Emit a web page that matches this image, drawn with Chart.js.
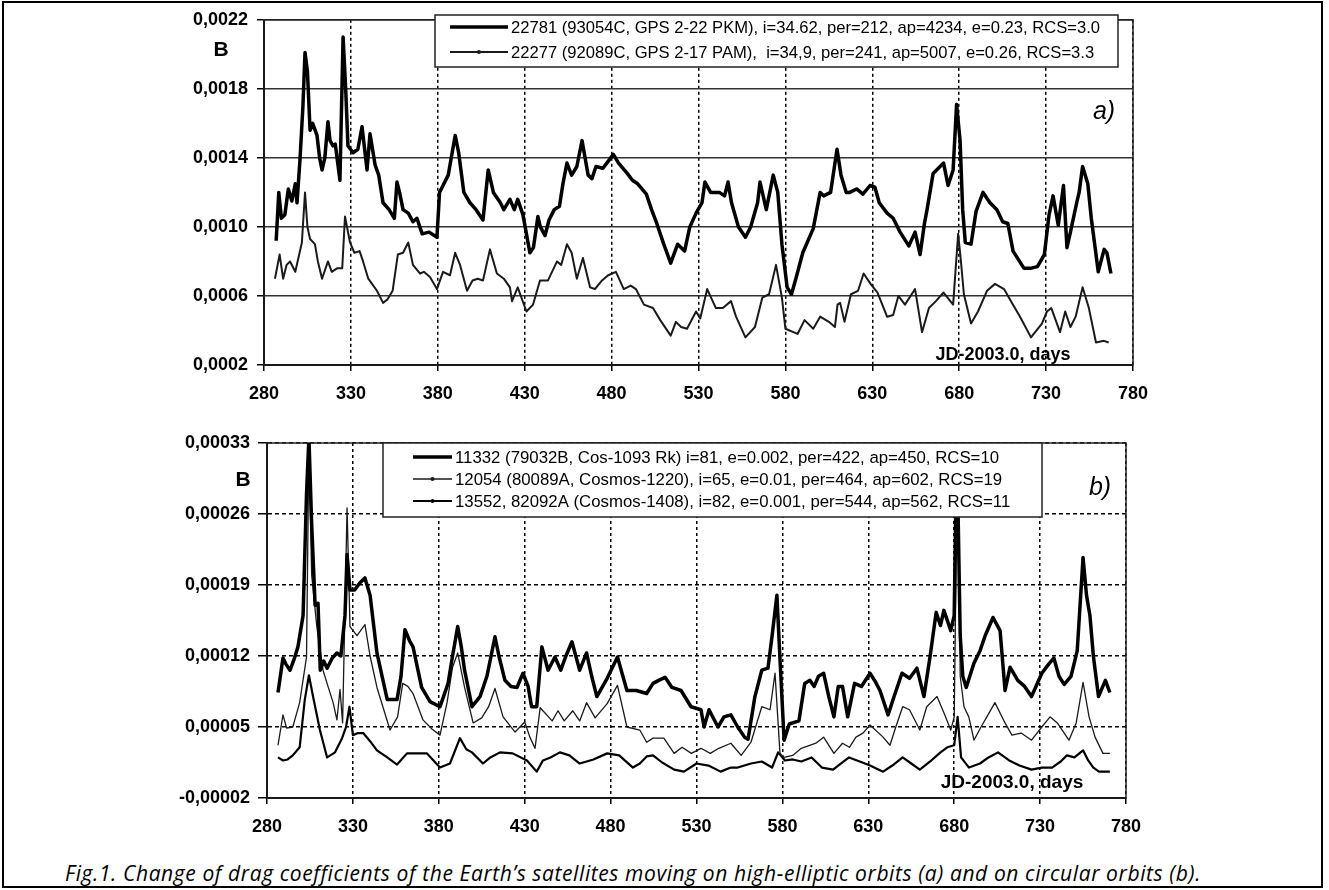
<!DOCTYPE html>
<html>
<head>
<meta charset="utf-8">
<title>Drag coefficients</title>
<script src="https://cdn.jsdelivr.net/npm/chart.js"></script>
<style>
  body { margin: 0; background: #fff; }
  #frame { position: absolute; left: 2px; top: 1px; width: 1317px; height: 883px; border: 2px solid #000; }
  canvas { position: absolute; left: 0; }
  #chartA { top: 0; }
  #chartB { top: 410px; }
  #caption { position: absolute; left: 65px; top: 859px; line-height: 28px; font: italic 21px "Open Sans", sans-serif; letter-spacing: 0.6px; white-space: nowrap; color: #000; }
</style>
</head>
<body>
<div id="frame"></div>
<canvas id="chartA" width="1329" height="410"></canvas>
<canvas id="chartB" width="1329" height="430"></canvas>
<div id="caption">Fig.1. Change of drag coefficients of the Earth’s satellites moving on high-elliptic orbits (a) and on circular orbits (b).</div>
<script>
// [day (JD-2003.0), B] pairs
const gps2_22 = [
  [287,0.00092],[288.5,0.0012],[290,0.00105],[292,0.00107],[294,0.00122],[296,0.00115],[298,0.00125],[299,0.00114],[300.7,0.00139],[302.4,0.0017],
  [303.6,0.00201],[305,0.0019],[306.5,0.00156],[308,0.0016],[310.5,0.00153],[312,0.0014],[313.4,0.00133],[315,0.0014],[316.8,0.00161],[318,0.0015],
  [319.7,0.00147],[321,0.00148],[323.7,0.00127],[325.5,0.0021],[327,0.0018],[328.3,0.00147],[331.2,0.00143],[334,0.00145],[336.4,0.00158],[339.3,0.00133],
  [341,0.00154],[343.9,0.00136],[346,0.0013],[348.5,0.00114],[352,0.0011],[355,0.00105],[356.5,0.00126],[358,0.0012],[360,0.0011],[363,0.00108],
  [365.7,0.00103],[368,0.00105],[371,0.00096],[375,0.00097],[379.5,0.00094],[381,0.0012],[383,0.00124],[386,0.0013],[390,0.00153],[392,0.00143],
  [395,0.0012],[398.5,0.00114],[402,0.0011],[406,0.00104],[409,0.00133],[412,0.0012],[416,0.00114],[418,0.0011],[421.5,0.00116],[424,0.0011],
  [426,0.00116],[429,0.00107],[433,0.00085],[435,0.00088],[437.6,0.00106],[439,0.001],[441.7,0.00095],[444,0.00104],[447,0.0011],[450,0.00112],
  [452,0.00125],[454.3,0.00137],[457,0.0013],[460,0.00135],[463,0.0015],[466.5,0.0013],[468.7,0.00128],[471,0.00135],[475,0.00134],[478,0.00138],
  [481,0.00142],[484,0.00137],[489,0.00131],[492,0.00127],[495,0.00125],[500,0.00119],[503,0.0011],[506,0.00102],[510,0.0009],[514,0.00079],
  [518,0.0009],[522,0.00086],[525,0.001],[528.6,0.00108],[532,0.00114],[533.7,0.00126],[537,0.0012],[542,0.0012],[545,0.00118],[547,0.00126],
  [549,0.00114],[553,0.001],[557,0.00094],[560,0.001],[564,0.00114],[565.4,0.00126],[569,0.0011],[573,0.0013],[575.6,0.0012],[578,0.0009],
  [581,0.00065],[583.5,0.00061],[586,0.0007],[590,0.00085],[596,0.00099],[600,0.0012],[602,0.00118],[606,0.0012],[609.7,0.00145],[612,0.0013],
  [615,0.0012],[617,0.0012],[621,0.00122],[624.6,0.00119],[628.7,0.00124],[631.5,0.00123],[634,0.00114],[638.5,0.00108],[642,0.00105],[646,0.00097],
  [651,0.00089],[654.6,0.00097],[657.5,0.00084],[660,0.00102],[661.5,0.0011],[665,0.00131],[669,0.00135],[671,0.00137],[673.6,0.00124],[676.5,0.00133],
  [678.5,0.00171],[680.5,0.0015],[682,0.0011],[683.5,0.00091],[686.8,0.0009],[689.7,0.00109],[693.7,0.0012],[697.7,0.00114],[701.7,0.0011],[705,0.00103],
  [708,0.00102],[711,0.00086],[717.3,0.00076],[721,0.00076],[725,0.00077],[729,0.00084],[731.7,0.00107],[734,0.00118],[737,0.00101],[740,0.00124],
  [742,0.00088],[744,0.00097],[747.6,0.00114],[749,0.0012],[751,0.00135],[754,0.00125],[756,0.00105],[760,0.00074],[763.4,0.00087],[765,0.00085],[767.3,0.00073]
];

const gps2_17 = [
  [286.3,0.0007],[289,0.00084],[291,0.0007],[293,0.00078],[295,0.0008],[298,0.00074],[301.8,0.00091],[303.6,0.0012],[305,0.001],[306.5,0.00093],
  [309.3,0.0009],[311,0.0008],[313.4,0.0007],[316.8,0.0008],[319,0.00074],[322,0.00076],[325,0.00076],[326.6,0.00106],[329.5,0.00091],[332,0.00085],
  [335,0.00086],[337,0.0008],[340,0.0007],[345,0.00063],[348.5,0.00056],[351,0.00058],[354,0.00063],[357,0.00084],[360,0.00085],[363,0.00091],
  [365.7,0.00078],[369.8,0.00073],[372,0.00074],[375.5,0.00071],[379.5,0.00064],[383,0.00074],[387,0.00072],[390,0.00085],[392.8,0.00078],[396.8,0.00063],
  [400,0.00069],[403,0.0007],[406,0.00069],[410,0.00087],[414,0.00073],[418,0.0007],[421.5,0.00065],[422.7,0.00057],[426,0.00065],[431,0.00051],
  [434.8,0.00055],[438.8,0.00069],[443.4,0.00069],[448.6,0.0008],[451,0.00078],[454.3,0.0009],[457,0.00085],[460,0.0007],[463.5,0.00082],[467.6,0.00065],
  [470.4,0.00064],[474.5,0.00069],[478,0.00072],[482.5,0.00074],[487,0.00064],[491,0.00066],[494,0.00064],[498.6,0.00055],[503.8,0.00053],[508,0.00046],
  [514,0.00037],[517,0.00045],[520,0.00042],[523.4,0.00041],[528.6,0.00051],[531,0.00047],[535,0.00064],[540,0.00053],[544,0.00053],[548.7,0.00057],
  [551.6,0.00048],[557,0.00036],[562.5,0.00042],[566.7,0.00059],[570.6,0.00061],[574.6,0.00078],[578,0.00059],[580,0.00041],[587,0.00038],[591,0.00046],
  [596,0.00041],[600,0.00048],[605,0.00045],[608.5,0.00042],[610,0.00055],[611.5,0.00056],[614,0.00045],[617.7,0.00061],[621.8,0.00063],[625,0.00073],
  [629,0.00067],[633,0.00062],[638.5,0.00048],[642,0.00049],[645,0.0006],[648.8,0.00055],[654.6,0.00064],[658.6,0.00039],[662.6,0.00053],[666.6,0.00057],
  [671,0.00062],[676.5,0.00055],[679.4,0.00096],[681,0.0008],[682.7,0.00061],[686.8,0.00044],[690.8,0.00051],[696,0.00063],[700.6,0.00067],[705.8,0.00064],
  [709.8,0.00057],[715,0.00048],[721.3,0.00036],[727.6,0.00044],[730.5,0.00051],[733,0.00053],[738,0.00039],[741,0.00051],[744,0.00042],[747,0.00048],
  [751,0.00065],[754.6,0.00053],[758.7,0.00033],[763.3,0.00034],[766,0.00033]
];

const cos1093 = [
  [286.4,0.000084],[289.3,0.000118],[291,0.000112],[293.4,0.000106],[296,0.000118],[298,0.000129],[301,0.00016],[303,0.00028],[304.4,0.000335],[306,0.00025],
  [308,0.00017],[309.7,0.000172],[311,0.000106],[313,0.000115],[315,0.000108],[318,0.000118],[320.7,0.000123],[323,0.00012],[325.4,0.00016],[326.6,0.00022],
  [328.3,0.000185],[331,0.000185],[334,0.000192],[337,0.000197],[340,0.00018],[344,0.000123],[347,0.0001],[350,0.000077],[355.7,0.000077],[358,0.0001],
  [360.3,0.000146],[363,0.000135],[365,0.000129],[370,0.000089],[374.9,0.000075],[380.7,0.00007],[385.4,0.000093],[388,0.00012],[391,0.000149],[393,0.00013],
  [395,0.000106],[399.3,0.00007],[404,0.00008],[408,0.0001],[412.7,0.000139],[415,0.00012],[418.5,0.000096],[422,0.00009],[425.5,0.000089],[429,0.000103],
  [432,0.00009],[434,0.00007],[437,0.00007],[440,0.000129],[443.6,0.000106],[447.6,0.000119],[451,0.000106],[454,0.00012],[457.5,0.000134],[462,0.000106],
  [466,0.000123],[469,0.0001],[472,0.00008],[478,0.000098],[484,0.000119],[489.5,0.000086],[495,0.000086],[501,0.000083],[504.7,0.000093],[508,0.000096],
  [511.7,0.000099],[515.7,0.000089],[521,0.000086],[526.8,0.00007],[532.6,0.000067],[534.4,0.00005],[537.3,0.000067],[542.5,0.00005],[546,0.00006],[550,0.000062],
  [554,0.00005],[558,0.00004],[560,0.000038],[564,0.00008],[568,0.000106],[571.6,0.000108],[574,0.00014],[576.8,0.00018],[578.5,0.00012],[581,0.000037],
  [584,0.000053],[589.6,0.000056],[593,0.000093],[596,0.000096],[598.5,0.00009],[601,0.0001],[604,0.000103],[607,0.00008],[610,0.00006],[612.5,0.00009],
  [615,0.00009],[618,0.00006],[622,0.000093],[626,0.00009],[631,0.000103],[634,0.000095],[636.8,0.000086],[641.5,0.000062],[645,0.00008],[649.6,0.000103],
  [654,0.000098],[658.3,0.000108],[662.4,0.00008],[666,0.00012],[669.5,0.000163],[672,0.00015],[674,0.000165],[678,0.000145],[680,0.00016],[681.5,0.000335],
  [683.5,0.00014],[685,0.0001],[687,0.000089],[691.5,0.000113],[695,0.000125],[698,0.00014],[702.6,0.000158],[706.7,0.000145],[709.6,0.000086],[712.5,0.000109],
  [717,0.000096],[721,0.00009],[725,0.00008],[731,0.000103],[735,0.000112],[738,0.000118],[741,0.0001],[744,0.000092],[748,0.0001],[751.6,0.000125],
  [755,0.000217],[757,0.00018],[759,0.00016],[761,0.00012],[764,0.00008],[768,0.000096],[770.6,0.000084]
];

const cosmos1220 = [
  [286.4,0.000032],[289.3,0.000062],[291.4,0.000049],[295,0.00005],[299,0.000074],[303,0.000119],[304.4,0.00033],[306,0.0002],[309,0.000149],[312.6,0.000106],
  [315.5,0.00009],[318.5,0.000074],[320.7,0.000057],[322.5,0.000087],[324,0.000054],[326.6,0.000266],[328.3,0.000149],[332.4,0.00014],[337,0.000151],[340,0.00012],
  [344,0.000089],[351.6,0.000047],[356,0.00006],[359,0.000093],[362,0.00009],[365,0.000083],[370.8,0.000057],[376,0.000048],[380.7,0.000042],[384.8,0.000074],
  [388,0.000109],[391,0.000123],[395,0.000089],[400,0.000054],[405,0.000059],[409,0.00007],[412.7,0.000088],[417.4,0.00006],[424.4,0.000045],[430,0.000055],
  [433,0.00004],[436,0.000029],[439,0.000069],[446,0.000056],[449.4,0.000066],[453,0.000056],[458,0.000066],[462,0.000056],[466,0.000074],[471,0.000059],
  [478,0.000073],[484,0.000091],[489.5,0.00005],[497,0.000047],[501,0.000035],[504.7,0.000039],[511,0.000039],[517,0.000024],[521.6,0.00003],[527,0.000024],
  [532.6,0.000029],[538,0.000024],[543,0.000029],[550,0.000034],[556,0.000022],[561.7,0.000035],[568,0.00007],[572.8,0.000067],[575.7,0.000103],[578.6,0.000024],
  [581,0.00002],[586,0.000022],[591,0.000029],[599.5,0.000034],[604,0.00004],[610,0.000024],[615,0.000034],[619,0.00003],[622.8,0.00004],[626.9,0.000044],
  [631,0.000052],[638.6,0.00004],[642.6,0.000032],[646,0.00005],[650,0.00007],[654,0.000067],[660,0.000047],[664,0.00007],[670,0.00008],[674,0.000064],
  [678,0.000047],[680,0.00006],[682,0.00033],[683.5,0.0001],[685.7,0.00007],[688.5,0.00006],[691.5,0.000037],[695.6,0.00005],[699,0.00006],[703.7,0.000074],
  [709.6,0.000054],[713.6,0.000042],[719,0.000044],[725,0.000037],[731,0.00005],[735.8,0.00006],[740,0.000054],[746.8,0.000037],[751,0.000054],[755,0.000094],
  [758.5,0.00006],[762,0.00004],[766.6,0.000024],[770.6,0.000024]
];

const cosmos1408 = [
  [286.4,0.00002],[289.3,0.000017],[292,0.000018],[295,0.000022],[299,0.00003],[302,0.000077],[304.4,0.000101],[306.8,0.00008],[310.8,0.000047],[315,0.00002],
  [319.6,0.000025],[323.7,0.000039],[326,0.00005],[328,0.00007],[330,0.000042],[333,0.000044],[336,0.000044],[340,0.000036],[344,0.000027],[350,0.00002],
  [355.7,0.000013],[361.5,0.000024],[367,0.000024],[373,0.000024],[380.7,0.00001],[386.5,0.000014],[392.3,0.000039],[396,0.000028],[399.3,0.000025],[405.7,0.000014],
  [410,0.00002],[415.6,0.000025],[423,0.000024],[431.3,0.000017],[437,0.000006],[440.6,0.000017],[445,0.00002],[450.5,0.000025],[456,0.000022],[462,0.000014],
  [470,0.000018],[478,0.000024],[485,0.000022],[493,0.00001],[497,0.000014],[501,0.000021],[504.7,0.000022],[510,0.000015],[517,0.000008],[522.7,0.000006],
  [530,0.000014],[537,0.000012],[544,0.000006],[550,0.00001],[554,0.00001],[561.7,0.000014],[568,0.000016],[574,0.00001],[577.5,0.000025],[581.5,0.000017],
  [586,0.000018],[591,0.000016],[597,0.00002],[603,0.00001],[609.5,0.000008],[614,0.000014],[618.8,0.00002],[625,0.000016],[631,0.000012],[638.6,0.000006],
  [644,0.000012],[650,0.00002],[655,0.000014],[660,0.000008],[666,0.000016],[672,0.000025],[676,0.00003],[680,0.000032],[682,0.00006],[684,0.00002],
  [688.6,0.00001],[695,0.000014],[700,0.00002],[705.5,0.000025],[712,0.000017],[718,0.000012],[725,0.000008],[731,0.00001],[737,0.00001],[742,0.000016],
  [745.6,0.000022],[750,0.00002],[755,0.000027],[758,0.000017],[761,0.00001],[764.3,0.000006],[770.6,0.000006]
];

const labelsA = [
  "22781 (93054C, GPS 2-22 PKM), i=34.62, per=212, ap=4234, e=0.23, RCS=3.0",
  "22277 (92089C, GPS 2-17 PAM),  i=34,9, per=241, ap=5007, e=0.26, RCS=3.3"
];
const labelsB = [
  "11332 (79032B, Cos-1093 Rk) i=81, e=0.002, per=422, ap=450, RCS=10",
  "12054 (80089A, Cosmos-1220), i=65, e=0.01, per=464, ap=602, RCS=19",
  "13552, 82092A (Cosmos-1408), i=82, e=0.001, per=544, ap=562, RCS=11"
];

const FAMILY = '"Liberation Sans", Arial, sans-serif';
Chart.defaults.font.family = FAMILY;
Chart.defaults.color = '#000';

const toXY = (pairs) => pairs.map(p => ({ x: p[0], y: p[1] }));
const tickFont = { family: FAMILY, size: 18, weight: 'bold' };

// solid box around the plot area (top / right edges)
const plotFrame = {
  id: 'plotFrame',
  beforeDatasetsDraw(chart) {
    const a = chart.chartArea, ctx = chart.ctx;
    ctx.save();
    ctx.strokeStyle = '#222';
    ctx.lineWidth = 1.5;
    ctx.strokeRect(a.left, a.top, a.right - a.left, a.bottom - a.top);
    ctx.restore();
  }
};

// boxed legend drawn from the datasets
const boxLegend = {
  id: 'boxLegend',
  afterDatasetsDraw(chart, args, o) {
    const ctx = chart.ctx;
    ctx.save();
    ctx.fillStyle = '#fff';
    ctx.fillRect(o.x, o.y, o.w, o.h);
    ctx.strokeStyle = '#222';
    ctx.lineWidth = 1.5;
    ctx.strokeRect(o.x, o.y, o.w, o.h);
    ctx.font = o.font;
    ctx.textAlign = 'left';
    ctx.textBaseline = 'middle';
    chart.data.datasets.forEach((ds, i) => {
      const y = o.rows[i];
      ctx.strokeStyle = ds.borderColor;
      ctx.lineWidth = ds.borderWidth;
      ctx.beginPath();
      ctx.moveTo(o.lineX0, y);
      ctx.lineTo(o.lineX1, y);
      ctx.stroke();
      if (o.dots[i]) {
        ctx.fillStyle = ds.borderColor;
        ctx.beginPath();
        ctx.arc((o.lineX0 + o.lineX1) / 2, y, 2, 0, Math.PI * 2);
        ctx.fill();
      }
      ctx.fillStyle = '#000';
      ctx.fillText(ds.label, o.textX, y + 1);
    });
    ctx.restore();
  }
};

// free text: axis name, panel letter, x-axis title
const notes = {
  id: 'notes',
  afterDatasetsDraw(chart, args, o) {
    const ctx = chart.ctx;
    ctx.save();
    ctx.fillStyle = '#000';
    ctx.textAlign = 'center';
    ctx.textBaseline = 'middle';
    o.items.forEach(t => {
      ctx.font = t.font;
      ctx.fillText(t.text, t.x, t.y);
    });
    ctx.restore();
  }
};

function lineDs(label, pairs, color, width) {
  return {
    label: label,
    data: toXY(pairs),
    borderColor: color,
    borderWidth: width,
    pointRadius: 0,
    tension: 0,
    borderJoinStyle: 'round',
    fill: false
  };
}

// ---------- panel a ----------
new Chart(document.getElementById('chartA'), {
  type: 'line',
  data: {
    datasets: [
      lineDs(labelsA[0], gps2_22, '#000', 3.5),
      lineDs(labelsA[1], gps2_17, '#1a1a1a', 2)
    ]
  },
  plugins: [plotFrame, boxLegend, notes],
  options: {
    responsive: false,
    animation: false,
    layout: { padding: { left: 0, top: 15, right: 196, bottom: 0 } },
    plugins: {
      legend: { display: false },
      tooltip: { enabled: false },
      boxLegend: {
        x: 435, y: 15, w: 683, h: 52, rows: [27, 52],
        lineX0: 450, lineX1: 508, textX: 511,
        font: '16.6px ' + FAMILY, dots: [false, true]
      },
      notes: {
        items: [
          { text: 'B', x: 221, y: 50, font: 'bold 21px ' + FAMILY },
          { text: 'a)', x: 1104, y: 112, font: 'italic 25px ' + FAMILY },
          { text: 'JD-2003.0, days', x: 1003, y: 355, font: 'bold 18px ' + FAMILY }
        ]
      }
    },
    scales: {
      x: {
        type: 'linear', min: 280, max: 780,
        afterFit: s => { s.height = 45; },
        ticks: { stepSize: 50, font: tickFont, color: '#000', padding: 12, maxRotation: 0 },
        grid: { color: '#000', lineWidth: 1.5, tickLength: 6, tickColor: '#000' },
        border: { display: true, color: '#000', width: 2, dash: [3, 3] }
      },
      y: {
        min: 0.0002, max: 0.0022,
        afterFit: s => { s.width = 264; },
        ticks: { stepSize: 0.0004, font: tickFont, color: '#000', padding: 9,
                 callback: v => v.toFixed(4).replace('.', ',') },
        grid: { color: '#333', lineWidth: 1.5, tickLength: 7, tickColor: '#000' },
        border: { display: true, color: '#000', width: 2 }
      }
    }
  }
});

// ---------- panel b ----------
new Chart(document.getElementById('chartB'), {
  type: 'line',
  data: {
    datasets: [
      lineDs(labelsB[0], cos1093, '#000', 3.5),
      lineDs(labelsB[1], cosmos1220, '#1a1a1a', 1.3),
      lineDs(labelsB[2], cosmos1408, '#000', 2.2)
    ]
  },
  plugins: [plotFrame, boxLegend, notes],
  options: {
    responsive: false,
    animation: false,
    layout: { padding: { left: 0, top: 33, right: 203, bottom: 0 } },
    plugins: {
      legend: { display: false },
      tooltip: { enabled: false },
      boxLegend: {
        x: 383, y: 33, w: 659, h: 74, rows: [47, 69, 91],
        lineX0: 413, lineX1: 452, textX: 455,
        font: '16.8px ' + FAMILY, dots: [false, true, true]
      },
      notes: {
        items: [
          { text: 'B', x: 243, y: 70, font: 'bold 21px ' + FAMILY },
          { text: 'b)', x: 1100, y: 78, font: 'italic 25px ' + FAMILY },
          { text: 'JD-2003.0, days', x: 1012, y: 373, font: 'bold 19px ' + FAMILY }
        ]
      }
    },
    scales: {
      x: {
        type: 'linear', min: 280, max: 780,
        afterFit: s => { s.height = 42; },
        ticks: { stepSize: 50, font: tickFont, color: '#000', padding: 12, maxRotation: 0 },
        grid: { color: '#000', lineWidth: 1.5, tickLength: 6, tickColor: '#000' },
        border: { display: true, color: '#000', width: 2, dash: [3, 3] }
      },
      y: {
        min: -0.00002, max: 0.00033,
        afterFit: s => { s.width = 267; },
        ticks: { stepSize: 0.00007, font: tickFont, color: '#000', padding: 8,
                 callback: v => v.toFixed(5).replace('.', ',') },
        grid: { color: '#000', lineWidth: 1.5, tickLength: 9, tickColor: '#000' },
        border: { display: true, color: '#000', width: 2, dash: [4, 3] }
      }
    }
  }
});
</script>
</body>
</html>
